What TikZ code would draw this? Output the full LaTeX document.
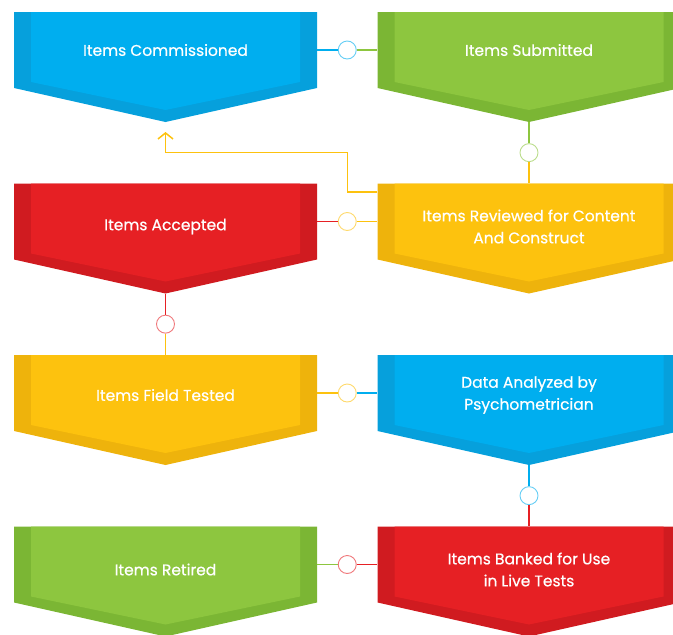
\documentclass[tikz,border=0pt]{standalone}
\usepackage{fontspec}
\newfontfamily\poppins[FakeBold=0.5]{Poppins}
\usetikzlibrary{arrows.meta}
\usetikzlibrary{calc}

\definecolor{bluelight}{HTML}{00AEEF}
\definecolor{bluedark}{HTML}{06A0DC}
\definecolor{greenlight}{HTML}{8DC63F}
\definecolor{greendark}{HTML}{7BB634}
\definecolor{redlight}{HTML}{E62024}
\definecolor{reddark}{HTML}{D01B20}
\definecolor{yellowlight}{HTML}{FDC20E}
\definecolor{yellowdark}{HTML}{EEB30C}

\tikzset{stepbox/.style = {minimum width=303pt, minimum height=76pt, inner sep=0pt},
         steplabel/.style = {align=center, text=white, inner sep=0pt,
                             font=\poppins\fontsize{15.5}{22}\selectfont},
         joint/.style = {circle, fill=white, minimum size=18pt, inner sep=0pt,
                         line width=0.9pt},
         link/.style = {line width=1.5pt}}

% chevron box: [text shift], name, centre x, top y, colour, text
\newcommand{\flowstep}[6][0]{%
  \fill [#5dark] (#3-151.5, #4) -- ++(303, 0) -- ++(0, 76) -- ++(-151.5, 34)
    -- ++(-151.5, -34) -- cycle;
  \fill [#5light] (#3-134.5, #4) -- ++(269, 0) -- ++(0, 70) -- ++(-134.5, 28)
    -- ++(-134.5, -28) -- cycle;
  \node [stepbox] (#2) at (#3, #4+38) {};
  \node [steplabel] at ($(#2.center)+(0, #1)$) {#6};
  \coordinate (#2-tip) at (#3, #4+110);
}

\begin{document}
\begin{tikzpicture}[x=1pt, y=-1pt]
  \useasboundingbox (0, 0) rectangle (673, 635);
  \clip (0, 0) rectangle (673, 635);

  \flowstep{commissioned}{165.5}{12}{blue}{Items Commissioned}
  \flowstep{submitted}{529}{12}{green}{Items Submitted}
  \flowstep[5]{accepted}{165.5}{183.5}{red}{Items Accepted}
  \flowstep[5]{reviewed}{529}{183.5}{yellow}{Items Reviewed for Content\\And Construct}
  \flowstep[2]{fieldtested}{165.5}{355}{yellow}{Items Field Tested}
  \flowstep[2]{analyzed}{529}{355}{blue}{Data Analyzed by\\Psychometrician}
  \flowstep[5]{retired}{165.5}{526.5}{green}{Items Retired}
  \flowstep[5]{banked}{529}{526.5}{red}{Items Banked for Use\\in Live Tests}

  \foreach \l/\r/\cl/\cr/\cj [count=\i] in {commissioned/submitted/blue/green/blue,
      accepted/reviewed/red/yellow/yellow, fieldtested/analyzed/yellow/blue/yellow,
      retired/banked/green/red/red} {
    \node [joint, draw=\cj light!60] (h\i) at ($(\l.east)!0.5!(\r.west)$) {};
    \draw [link, \cl light] (\l.east) -- (h\i);
    \draw [link, \cr light] (h\i) -- (\r.west);
  };

  \foreach \t/\b/\ct/\cb/\cj [count=\i] in {submitted/reviewed/green/yellow/green,
      accepted/fieldtested/red/yellow/red, analyzed/banked/blue/red/blue} {
    \node [joint, draw=\cj light!60] (v\i) at ($(\t-tip)!0.5!(\b.north)$) {};
    \draw [link, \ct light] (\t-tip) -- (v\i);
    \draw [link, \cb light] (v\i) -- (\b.north);
  };

  \draw [link, yellowlight, -{Straight Barb[length=6pt, width=15pt]}]
    ([yshift=29.5pt]reviewed.west) -| (h1 |- v1) -| ([yshift=-10pt]commissioned-tip);
\end{tikzpicture}
\end{document}
